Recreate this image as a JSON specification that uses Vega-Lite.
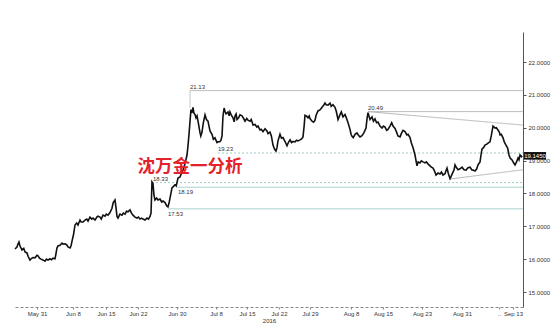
{
  "$schema": "https://vega.github.io/schema/vega-lite/v6.json",
  "width": 508,
  "height": 275,
  "autosize": {"type": "none"},
  "padding": {"left": 15, "top": 32, "right": 31, "bottom": 23},
  "background": "white",
  "config": {"view": {"stroke": null}, "font": "Liberation Sans"},
  "datasets": {
    "price": [
      {"t":-3.49,"p":16.31},{"t":-3.18,"p":16.37},{"t":-3.02,"p":16.46},{"t":-2.86,"p":16.52},{"t":-2.7,"p":16.40},{"t":-2.38,"p":16.28},{"t":-2.1,"p":16.33},{"t":-1.9,"p":16.22},{"t":-1.59,"p":16.19},{"t":-1.4,"p":16.08},{"t":-1.11,"p":15.97},{"t":-0.9,"p":16.02},{"t":-0.63,"p":16.05},{"t":-0.32,"p":16.04},{"t":0.0,"p":16.12},{"t":0.16,"p":16.10},{"t":0.4,"p":16.03},{"t":0.63,"p":16.0},{"t":1.0,"p":15.97},{"t":1.27,"p":15.94},{"t":1.5,"p":16.0},{"t":1.75,"p":15.97},{"t":2.06,"p":16.01},{"t":2.3,"p":15.98},{"t":2.54,"p":16.03},{"t":2.86,"p":16.01},{"t":3.0,"p":16.15},{"t":3.17,"p":16.34},{"t":3.33,"p":16.40},{"t":3.65,"p":16.42},{"t":3.97,"p":16.49},{"t":4.13,"p":16.46},{"t":4.44,"p":16.47},{"t":4.7,"p":16.44},{"t":4.92,"p":16.37},{"t":5.24,"p":16.34},{"t":5.4,"p":16.40},{"t":5.56,"p":16.55},{"t":5.8,"p":16.75},{"t":6.03,"p":17.04},{"t":6.3,"p":17.10},{"t":6.51,"p":17.04},{"t":6.83,"p":17.19},{"t":7.0,"p":17.13},{"t":7.3,"p":17.13},{"t":7.62,"p":17.19},{"t":7.9,"p":17.22},{"t":8.1,"p":17.16},{"t":8.41,"p":17.28},{"t":8.7,"p":17.22},{"t":8.89,"p":17.25},{"t":9.21,"p":17.19},{"t":9.5,"p":17.28},{"t":9.68,"p":17.31},{"t":10.0,"p":17.28},{"t":10.2,"p":17.22},{"t":10.48,"p":17.34},{"t":10.79,"p":17.31},{"t":11.0,"p":17.37},{"t":11.27,"p":17.34},{"t":11.59,"p":17.42},{"t":11.9,"p":17.55},{"t":12.1,"p":17.72},{"t":12.38,"p":17.80},{"t":12.55,"p":17.55},{"t":12.7,"p":17.30},{"t":12.86,"p":17.25},{"t":13.17,"p":17.37},{"t":13.49,"p":17.34},{"t":13.7,"p":17.40},{"t":13.97,"p":17.37},{"t":14.2,"p":17.46},{"t":14.44,"p":17.44},{"t":14.76,"p":17.50},{"t":15.0,"p":17.40},{"t":15.24,"p":17.34},{"t":15.56,"p":17.28},{"t":15.87,"p":17.25},{"t":16.1,"p":17.28},{"t":16.35,"p":17.22},{"t":16.6,"p":17.25},{"t":16.83,"p":17.22},{"t":17.14,"p":17.19},{"t":17.46,"p":17.25},{"t":17.7,"p":17.22},{"t":17.94,"p":17.30},{"t":18.1,"p":17.40},{"t":18.25,"p":18.35},{"t":18.41,"p":18.30},{"t":18.57,"p":17.95},{"t":18.73,"p":17.80},{"t":19.0,"p":17.86},{"t":19.21,"p":17.80},{"t":19.52,"p":17.83},{"t":19.8,"p":17.74},{"t":20.0,"p":17.77},{"t":20.32,"p":17.72},{"t":20.6,"p":17.62},{"t":20.79,"p":17.59},{"t":20.95,"p":17.70},{"t":21.11,"p":17.86},{"t":21.43,"p":18.17},{"t":21.59,"p":18.20},{"t":21.9,"p":18.26},{"t":22.1,"p":18.23},{"t":22.38,"p":18.47},{"t":22.7,"p":18.50},{"t":23.0,"p":18.65},{"t":23.17,"p":18.71},{"t":23.49,"p":18.90},{"t":23.81,"p":19.17},{"t":23.97,"p":19.45},{"t":24.15,"p":19.85},{"t":24.29,"p":20.20},{"t":24.44,"p":20.55},{"t":24.6,"p":20.45},{"t":24.76,"p":20.62},{"t":24.9,"p":20.45},{"t":25.08,"p":20.40},{"t":25.24,"p":20.30},{"t":25.4,"p":20.36},{"t":25.56,"p":20.20},{"t":25.87,"p":19.85},{"t":26.0,"p":19.75},{"t":26.19,"p":19.87},{"t":26.4,"p":20.15},{"t":26.67,"p":20.39},{"t":26.9,"p":20.25},{"t":27.14,"p":20.20},{"t":27.3,"p":20.05},{"t":27.46,"p":19.90},{"t":27.78,"p":19.80},{"t":28.0,"p":19.65},{"t":28.25,"p":19.69},{"t":28.57,"p":19.55},{"t":28.73,"p":19.57},{"t":29.05,"p":19.58},{"t":29.2,"p":19.62},{"t":29.37,"p":19.75},{"t":29.52,"p":20.35},{"t":29.7,"p":20.60},{"t":29.84,"p":20.50},{"t":30.0,"p":20.42},{"t":30.32,"p":20.48},{"t":30.5,"p":20.36},{"t":30.63,"p":20.48},{"t":30.85,"p":20.38},{"t":31.11,"p":20.30},{"t":31.3,"p":20.18},{"t":31.43,"p":20.36},{"t":31.6,"p":20.42},{"t":31.75,"p":20.25},{"t":32.0,"p":20.30},{"t":32.22,"p":20.39},{"t":32.54,"p":20.36},{"t":32.8,"p":20.28},{"t":33.02,"p":20.20},{"t":33.3,"p":20.28},{"t":33.49,"p":20.23},{"t":33.81,"p":20.20},{"t":34.0,"p":20.25},{"t":34.29,"p":20.08},{"t":34.6,"p":20.10},{"t":34.9,"p":20.02},{"t":35.08,"p":20.05},{"t":35.4,"p":19.93},{"t":35.6,"p":19.95},{"t":35.87,"p":19.88},{"t":36.19,"p":19.97},{"t":36.5,"p":19.90},{"t":36.67,"p":19.82},{"t":36.98,"p":19.87},{"t":37.2,"p":19.75},{"t":37.46,"p":19.47},{"t":37.7,"p":19.35},{"t":37.94,"p":19.29},{"t":38.1,"p":19.40},{"t":38.25,"p":19.60},{"t":38.57,"p":19.80},{"t":38.8,"p":19.68},{"t":39.05,"p":19.70},{"t":39.37,"p":19.58},{"t":39.68,"p":19.45},{"t":39.9,"p":19.55},{"t":40.16,"p":19.63},{"t":40.4,"p":19.55},{"t":40.63,"p":19.58},{"t":40.95,"p":19.57},{"t":41.2,"p":19.62},{"t":41.43,"p":19.60},{"t":41.75,"p":19.63},{"t":42.0,"p":19.66},{"t":42.22,"p":19.72},{"t":42.4,"p":20.05},{"t":42.54,"p":20.38},{"t":42.8,"p":20.35},{"t":43.02,"p":20.30},{"t":43.2,"p":20.36},{"t":43.33,"p":20.28},{"t":43.65,"p":20.20},{"t":43.9,"p":20.17},{"t":44.13,"p":20.23},{"t":44.3,"p":20.38},{"t":44.6,"p":20.51},{"t":44.92,"p":20.54},{"t":45.24,"p":20.62},{"t":45.5,"p":20.68},{"t":45.71,"p":20.75},{"t":45.9,"p":20.70},{"t":46.19,"p":20.69},{"t":46.51,"p":20.75},{"t":46.7,"p":20.65},{"t":46.98,"p":20.70},{"t":47.3,"p":20.62},{"t":47.5,"p":20.50},{"t":47.78,"p":20.25},{"t":48.1,"p":20.40},{"t":48.3,"p":20.48},{"t":48.57,"p":20.33},{"t":48.89,"p":20.40},{"t":49.1,"p":20.30},{"t":49.37,"p":20.15},{"t":49.68,"p":19.95},{"t":49.85,"p":19.80},{"t":50.0,"p":19.74},{"t":50.2,"p":19.70},{"t":50.48,"p":19.80},{"t":50.79,"p":19.84},{"t":51.0,"p":19.78},{"t":51.27,"p":19.72},{"t":51.59,"p":19.76},{"t":51.9,"p":19.85},{"t":52.22,"p":19.99},{"t":52.4,"p":20.30},{"t":52.54,"p":20.46},{"t":52.7,"p":20.35},{"t":52.86,"p":20.25},{"t":53.17,"p":20.33},{"t":53.4,"p":20.20},{"t":53.65,"p":20.27},{"t":53.9,"p":20.15},{"t":54.13,"p":20.17},{"t":54.44,"p":20.05},{"t":54.76,"p":19.99},{"t":55.0,"p":20.05},{"t":55.24,"p":20.02},{"t":55.5,"p":19.92},{"t":55.71,"p":19.95},{"t":56.03,"p":20.05},{"t":56.3,"p":20.15},{"t":56.51,"p":20.05},{"t":56.83,"p":19.98},{"t":57.1,"p":19.85},{"t":57.3,"p":19.75},{"t":57.62,"p":19.72},{"t":57.9,"p":19.85},{"t":58.1,"p":19.92},{"t":58.41,"p":19.88},{"t":58.7,"p":19.78},{"t":58.89,"p":19.80},{"t":59.21,"p":19.70},{"t":59.4,"p":19.55},{"t":59.68,"p":19.40},{"t":60.0,"p":19.17},{"t":60.2,"p":18.95},{"t":60.32,"p":18.84},{"t":60.5,"p":18.96},{"t":60.79,"p":18.93},{"t":61.0,"p":18.99},{"t":61.27,"p":18.96},{"t":61.59,"p":18.93},{"t":61.8,"p":18.96},{"t":62.06,"p":18.90},{"t":62.38,"p":18.84},{"t":62.6,"p":18.80},{"t":62.86,"p":18.77},{"t":63.1,"p":18.68},{"t":63.33,"p":18.56},{"t":63.65,"p":18.62},{"t":63.97,"p":18.59},{"t":64.2,"p":18.65},{"t":64.44,"p":18.56},{"t":64.76,"p":18.60},{"t":64.9,"p":18.68},{"t":65.08,"p":18.77},{"t":65.3,"p":18.60},{"t":65.56,"p":18.45},{"t":65.8,"p":18.55},{"t":66.03,"p":18.65},{"t":66.2,"p":18.72},{"t":66.35,"p":18.87},{"t":66.6,"p":18.78},{"t":66.83,"p":18.72},{"t":67.14,"p":18.75},{"t":67.46,"p":18.80},{"t":67.78,"p":18.72},{"t":68.1,"p":18.71},{"t":68.41,"p":18.78},{"t":68.73,"p":18.80},{"t":69.0,"p":18.72},{"t":69.21,"p":18.71},{"t":69.52,"p":18.68},{"t":69.8,"p":18.75},{"t":70.0,"p":18.87},{"t":70.32,"p":18.96},{"t":70.5,"p":19.20},{"t":70.63,"p":19.35},{"t":70.9,"p":19.40},{"t":71.11,"p":19.47},{"t":71.4,"p":19.50},{"t":71.59,"p":19.53},{"t":71.9,"p":19.57},{"t":72.1,"p":19.75},{"t":72.38,"p":20.05},{"t":72.55,"p":20.02},{"t":72.7,"p":19.99},{"t":72.9,"p":20.00},{"t":73.17,"p":19.93},{"t":73.4,"p":19.86},{"t":73.49,"p":19.78},{"t":73.7,"p":19.80},{"t":73.97,"p":19.69},{"t":74.2,"p":19.55},{"t":74.44,"p":19.47},{"t":74.7,"p":19.38},{"t":74.92,"p":19.17},{"t":75.1,"p":19.08},{"t":75.4,"p":19.02},{"t":75.6,"p":18.95},{"t":75.87,"p":18.87},{"t":76.1,"p":18.95},{"t":76.35,"p":19.08},{"t":76.5,"p":19.02},{"t":76.67,"p":19.17},{"t":76.9,"p":19.12},{"t":77.0,"p":19.145}
    ],
    "levels": [
      {"x1":24.29,"x2":77.14,"y1":21.13,"y2":21.13,"kind":"level"},
      {"x1":24.29,"x2":24.29,"y1":21.13,"y2":20.6,"kind":"level"},
      {"x1":52.54,"x2":77.14,"y1":20.49,"y2":20.49,"kind":"level"},
      {"x1":52.54,"x2":77.14,"y1":20.49,"y2":20.08,"kind":"trend"},
      {"x1":65.56,"x2":77.14,"y1":18.44,"y2":18.72,"kind":"trend"},
      {"x1":28.73,"x2":77.14,"y1":19.23,"y2":19.23,"kind":"dashed"},
      {"x1":18.25,"x2":77.14,"y1":18.33,"y2":18.33,"kind":"dashed"},
      {"x1":22.06,"x2":77.14,"y1":18.19,"y2":18.19,"kind":"support"},
      {"x1":20.79,"x2":77.14,"y1":17.53,"y2":17.53,"kind":"support"}
    ],
    "labels": [
      {"t":24.29,"p":21.13,"text":"21.13","side":"above"},
      {"t":52.54,"p":20.49,"text":"20.49","side":"above"},
      {"t":28.73,"p":19.23,"text":"19.23","side":"above"},
      {"t":18.41,"p":18.33,"text":"18.33","side":"above"},
      {"t":22.38,"p":18.19,"text":"18.19","side":"below"},
      {"t":20.79,"p":17.53,"text":"17.53","side":"below"}
    ],
    "last": [
      {"x1":77.3,"x2":80.8,"y1":19.03,"y2":19.26,"t":79.05,"p":19.145,"text":"19.1450"}
    ],
    "mark": [
      {"t":24.29,"p":18.81,"text":"沈万金一分析"}
    ]
  },
  "layer": [
    {
      "data": {"name": "levels"},
      "mark": {"type": "rule", "strokeWidth": 1},
      "encoding": {
        "x": {"field": "x1", "type": "quantitative", "scale": {"domain": [-3.49, 77.14], "nice": false, "zero": false},
          "axis": {"orient": "bottom", "title": "2016", "titleFontSize": 6, "titleFontWeight": "normal", "titleColor": "#333", "titlePadding": 1,
            "values": [0, 5.71, 10.95, 16.03, 22.22, 28.41, 33.33, 38.41, 43.33, 49.84, 54.92, 61.11, 67.46, 73.33, 75.56],
            "tickCount": 100,
            "labelExpr": "['May 31','Jun 8','Jun 15','Jun 22','Jun 30','Jul 8','Jul 15','Jul 22','Jul 29','Aug 8','Aug 15','Aug 23','Aug 31','..','Sep 13'][indexof([0, 5.71, 10.95, 16.03, 22.22, 28.41, 33.33, 38.41, 43.33, 49.84, 54.92, 61.11, 67.46, 73.33, 75.56], datum.value)]",
            "labelOverlap": false, "labelFontSize": 6, "labelColor": "#333", "labelPadding": 1, "tickSize": 2, "tickColor": "#888",
            "domainColor": "#888", "domainDash": [3, 2], "grid": false}},
        "x2": {"field": "x2"},
        "y": {"field": "y1", "type": "quantitative", "scale": {"domain": [14.544, 22.913], "nice": false, "zero": false},
          "axis": {"orient": "right", "title": null, "values": [15, 16, 17, 18, 19, 20, 21, 22], "tickCount": 50, "format": ".4f",
            "labelOverlap": false, "labelFontSize": 6, "labelColor": "#333", "labelPadding": 2, "tickSize": 3, "tickColor": "#555", "domainColor": "#555", "grid": false}},
        "y2": {"field": "y2"},
        "color": {"field": "kind", "type": "nominal", "legend": null,
          "scale": {"domain": ["level", "trend", "dashed", "support"], "range": ["#bdbdbd", "#b5b5b5", "#9fc9c6", "#a9cfcc"]}},
        "strokeDash": {"field": "kind", "type": "nominal", "legend": null,
          "scale": {"domain": ["level", "trend", "dashed", "support"], "range": [[1, 0], [1, 0], [2, 2], [1, 0]]}}
      }
    },
    {
      "data": {"name": "price"},
      "mark": {"type": "line", "color": "#111", "strokeWidth": 1.6, "strokeJoin": "miter"},
      "encoding": {
        "x": {"field": "t", "type": "quantitative"},
        "y": {"field": "p", "type": "quantitative"}
      }
    },
    {
      "data": {"name": "labels"},
      "transform": [{"filter": "datum.side == 'above'"}],
      "mark": {"type": "text", "align": "left", "baseline": "bottom", "fontSize": 6, "color": "#333", "dy": -1},
      "encoding": {
        "x": {"field": "t", "type": "quantitative"},
        "y": {"field": "p", "type": "quantitative"},
        "text": {"field": "text"}
      }
    },
    {
      "data": {"name": "labels"},
      "transform": [{"filter": "datum.side == 'below'"}],
      "mark": {"type": "text", "align": "left", "baseline": "top", "fontSize": 6, "color": "#333", "dy": 2},
      "encoding": {
        "x": {"field": "t", "type": "quantitative"},
        "y": {"field": "p", "type": "quantitative"},
        "text": {"field": "text"}
      }
    },
    {
      "data": {"name": "last"},
      "mark": {"type": "rect", "color": "#111"},
      "encoding": {
        "x": {"field": "x1", "type": "quantitative"},
        "x2": {"field": "x2"},
        "y": {"field": "y1", "type": "quantitative"},
        "y2": {"field": "y2"}
      }
    },
    {
      "data": {"name": "last"},
      "mark": {"type": "text", "align": "center", "baseline": "middle", "fontSize": 6, "color": "white"},
      "encoding": {
        "x": {"field": "t", "type": "quantitative"},
        "y": {"field": "p", "type": "quantitative"},
        "text": {"field": "text"}
      }
    },
    {
      "data": {"name": "mark"},
      "mark": {"type": "text", "align": "center", "baseline": "middle", "fontSize": 17.5, "fontWeight": "bold", "font": "Noto Sans CJK SC", "color": "#e3222b"},
      "encoding": {
        "x": {"field": "t", "type": "quantitative"},
        "y": {"field": "p", "type": "quantitative"},
        "text": {"field": "text"}
      }
    }
  ]
}
